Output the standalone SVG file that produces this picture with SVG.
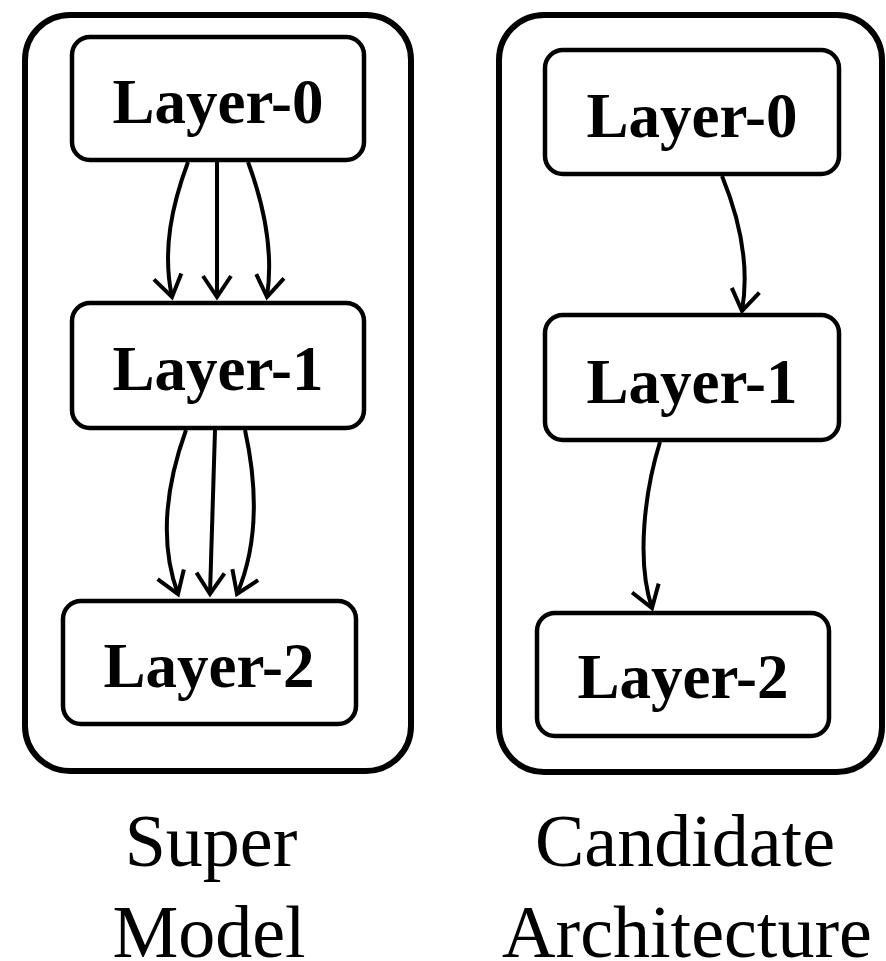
<svg xmlns="http://www.w3.org/2000/svg" width="886" height="961" viewBox="0 0 886 961">
  <style>
    .panel { fill: #fff; stroke: #000; stroke-width: 6; }
    .node rect { fill: #fff; stroke: #000; stroke-width: 4.5; }
    .node text { font-family: "Liberation Serif", "Times New Roman", serif; font-weight: bold; font-size: 63px; text-anchor: middle; fill: #000; }
    .edge { fill: none; stroke: #000; stroke-width: 4; marker-end: url(#arrow); }
    .caption { font-family: "Liberation Serif", "Times New Roman", serif; font-size: 74px; text-anchor: middle; fill: #000; }
  </style>
  <defs>
    <marker id="arrow" markerUnits="userSpaceOnUse" viewBox="-24 -16 28 32" markerWidth="28" markerHeight="32" refX="0" refY="0" orient="auto">
      <path d="M-21,-14 L0,0 L-21,14" fill="none" stroke="#000" stroke-width="4" stroke-linejoin="miter"/>
    </marker>
  </defs>

  <!-- panels -->
  <rect id="super-model" class="panel" x="25" y="15" width="386" height="756" rx="45"/>
  <rect id="candidate-architecture" class="panel" x="499" y="15" width="383" height="757" rx="45"/>

  <!-- super model layers -->
  <g id="sm-layer0" class="node">
    <rect x="72" y="37" width="292" height="123" rx="18"/>
    <text x="218" y="123">Layer-0</text>
  </g>
  <g id="sm-layer1" class="node">
    <rect x="72" y="303" width="292" height="125" rx="18"/>
    <text x="218" y="390">Layer-1</text>
  </g>
  <g id="sm-layer2" class="node">
    <rect x="63" y="601" width="293" height="123" rx="18"/>
    <text x="209" y="687">Layer-2</text>
  </g>

  <!-- candidate architecture layers -->
  <g id="ca-layer0" class="node">
    <rect x="545" y="50" width="294" height="124" rx="18"/>
    <text x="692" y="137">Layer-0</text>
  </g>
  <g id="ca-layer1" class="node">
    <rect x="545" y="315" width="294" height="125" rx="18"/>
    <text x="692" y="403">Layer-1</text>
  </g>
  <g id="ca-layer2" class="node">
    <rect x="537" y="613" width="292" height="123" rx="18"/>
    <text x="683" y="698">Layer-2</text>
  </g>

  <!-- connectors -->
  <g id="edges">
    <path class="edge" d="M188,162 C172,205 162,250 172,297"/>
    <path class="edge" d="M217,162 L217,297"/>
    <path class="edge" d="M248,162 C264,205 274,250 267,297"/>

    <path class="edge" d="M186,430 C168,480 158,540 178,594"/>
    <path class="edge" d="M215,430 C213,500 211,550 210,594"/>
    <path class="edge" d="M245,430 C256,480 260,540 237,594"/>

    <path class="edge" d="M722,176 C740,220 750,265 742,311"/>
    <path class="edge" d="M660,442 C645,490 636,560 652,608"/>
  </g>

  <!-- captions -->
  <text class="caption" x="211" y="866">Super</text>
  <text class="caption" x="209" y="957">Model</text>
  <text class="caption" x="685" y="866">Candidate</text>
  <text class="caption" x="687" y="957">Architecture</text>
</svg>
